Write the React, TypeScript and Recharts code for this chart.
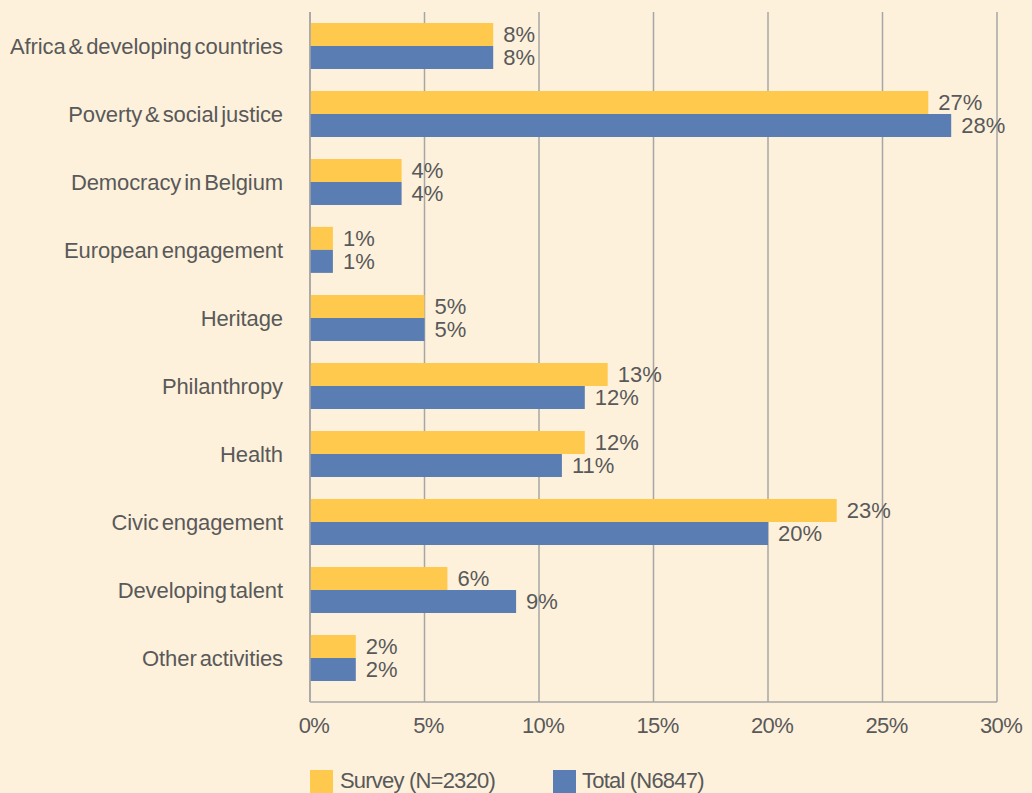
import React from 'react'
import {
    Bar,
    BarChart,
    CartesianGrid,
    XAxis,
    YAxis,
    Legend,
    LabelList,
} from 'recharts'

const categories = [
    'Africa & developing countries',
    'Poverty & social justice',
    'Democracy in Belgium',
    'European engagement',
    'Heritage',
    'Philanthropy',
    'Health',
    'Civic engagement',
    'Developing talent',
    'Other activities',
]
const surveyValues = [8, 27, 4, 1, 5, 13, 12, 23, 6, 2]
const totalValues = [8, 28, 4, 1, 5, 12, 11, 20, 9, 2]
const xTicks = [0, 5, 10, 15, 20, 25, 30]

const SURVEY_NAME = 'Survey (N=2320)'
const TOTAL_NAME = 'Total (N6847)'

const data = categories.map((name, i) => ({
    name,
    survey: surveyValues[i],
    total: totalValues[i],
}))

const textColor = '#595959'
const font = '"Liberation Sans", Arial, sans-serif'

const LegendContent = () => (
    <div style={{ position: 'relative', height: 24, fontFamily: font, fontSize: 22, color: textColor, letterSpacing: -0.8 }}>
        <div style={{ position: 'absolute', left: 310, top: 1, width: 23, height: 23, background: '#FFC94D' }} />
        <div style={{ position: 'absolute', left: 340, top: 0, lineHeight: '24px' }}>{SURVEY_NAME}</div>
        <div style={{ position: 'absolute', left: 553, top: 1, width: 23, height: 23, background: '#5A7DB3' }} />
        <div style={{ position: 'absolute', left: 582, top: 0, lineHeight: '24px' }}>{TOTAL_NAME}</div>
    </div>
)

export default function App() {
    return (
        <div style={{ position: 'absolute', left: 0, top: 0, width: 1032, height: 793, background: '#FDF1DC' }}>
            <BarChart
                width={1032}
                height={793}
                data={data}
                layout='vertical'
                margin={{ top: 12, right: 35, left: 0, bottom: 0 }}
                barCategoryGap='16%'
                barGap={0}
            >
                <CartesianGrid horizontal={false} stroke='#A6A6A6' strokeWidth={1.5} />
                <XAxis
                    type='number'
                    domain={[0, 30]}
                    ticks={xTicks}
                    tickFormatter={(v) => `${v}%`}
                    height={67}
                    tickLine={false}
                    tickSize={0}
                    tickMargin={15}
                    stroke='#A6A6A6'
                    strokeWidth={1.5}
                    tick={{ fill: textColor, fontSize: 22, fontFamily: font, letterSpacing: -0.6, dx: 4 }}
                />
                <YAxis
                    type='category'
                    dataKey='name'
                    width={310}
                    padding={{ top: 0, bottom: 10 }}
                    tickLine={false}
                    tickSize={0}
                    tickMargin={27}
                    stroke='#A6A6A6'
                    strokeWidth={1.5}
                    interval={0}
                    tick={{ fill: textColor, fontSize: 22, fontFamily: font, letterSpacing: -0.1, wordSpacing: -3 }}
                />
                <Legend verticalAlign='bottom' height={24} content={LegendContent} />
                <Bar dataKey='survey' name={SURVEY_NAME} fill='#FFC94D' isAnimationActive={false}>
                    <LabelList
                        dataKey='survey'
                        position='right'
                        offset={10}
                        formatter={(v: number) => `${v}%`}
                        fill={textColor}
                        fontSize={22}
                        fontFamily={font}
                    />
                </Bar>
                <Bar dataKey='total' name={TOTAL_NAME} fill='#5A7DB3' isAnimationActive={false}>
                    <LabelList
                        dataKey='total'
                        position='right'
                        offset={10}
                        formatter={(v: number) => `${v}%`}
                        fill={textColor}
                        fontSize={22}
                        fontFamily={font}
                    />
                </Bar>
            </BarChart>
        </div>
    )
}
